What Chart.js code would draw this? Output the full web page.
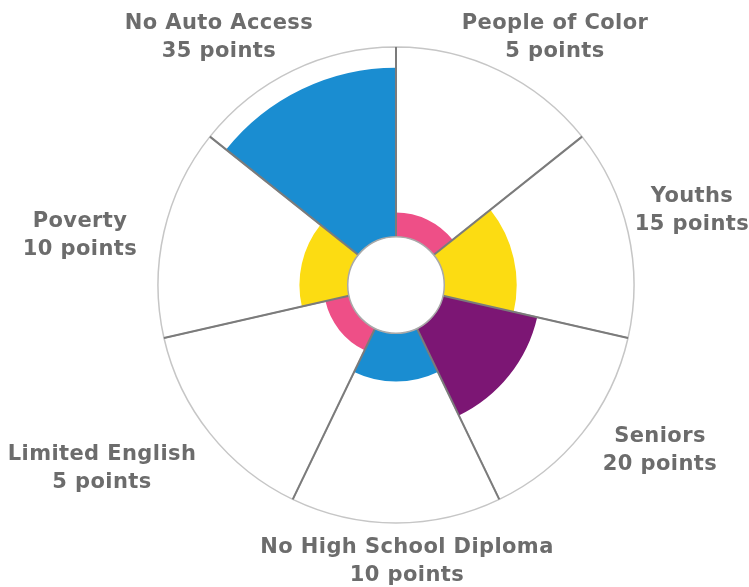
<!DOCTYPE html>
<html lang="en">
<head>
  <meta charset="UTF-8" />
  <script src="https://cdn.jsdelivr.net/npm/chart.js@4/dist/chart.umd.min.js"></script>
  <title>Equity Points</title>
  <style>
    body { margin: 0; background: #fff; }
  </style>
</head>
<body>
<canvas id="points" width="749" height="587"></canvas>
<script>
  // categories, clockwise from the top
  const categories = ["People of Color", "Youths", "Seniors", "No High School Diploma",
    "Limited English", "Poverty", "No Auto Access"];
  const points = [5, 15, 20, 10, 5, 10, 35];
  const colors = ["#ee4f87", "#fcdc12", "#7c1674", "#1a8dd1", "#ee4f87", "#fcdc12", "#1a8dd1"];

  // radial range: the hole sits below zero, the outer ring at the top
  const rMin = -10;
  const rMax = 39.3;

  // label anchors (centre of each two-line label)
  const labelPos = [[555, 24], [692, 197], [660, 437], [407, 548], [102, 455], [80, 222], [219, 24]];

  const holeAndLabels = {
    id: "holeAndLabels",
    afterDraw(chart) {
      const ctx = chart.ctx;
      const r = chart.scales.r;
      ctx.save();
      ctx.beginPath();
      ctx.arc(r.xCenter, r.yCenter, r.getDistanceFromCenterForValue(0), 0, Math.PI * 2);
      ctx.fillStyle = "#fff";
      ctx.fill();
      ctx.lineWidth = 1.5;
      ctx.strokeStyle = "#a9a9a9";
      ctx.stroke();

      ctx.fillStyle = "#6c6c6c";
      ctx.font = "bold 21px 'DejaVu Sans'";
      ctx.letterSpacing = "0.4px";
      ctx.textAlign = "center";
      ctx.textBaseline = "middle";
      categories.forEach((name, i) => {
        const [x, y] = labelPos[i];
        ctx.fillText(name, x, y);
        ctx.fillText(`${points[i]} points`, x, y + 28);
      });
      ctx.restore();
    }
  };

  new Chart(document.getElementById("points"), {
    type: "polarArea",
    data: {
      labels: categories,
      datasets: [{
        data: points,
        backgroundColor: colors,
        borderWidth: 0
      }, {
        // white backdrop reaching the outer ring
        data: categories.map(() => rMax),
        backgroundColor: "#fff",
        borderColor: "#c6c6c6",
        borderWidth: 1.5
      }]
    },
    options: {
      responsive: false,
      animation: false,
      layout: { padding: { left: 158, right: 115, top: 47, bottom: 64 } },
      plugins: { legend: { display: false }, tooltip: { enabled: false } },
      scales: {
        r: {
          min: rMin,
          max: rMax,
          startAngle: 0,
          ticks: { display: false, z: 1 },
          grid: { display: false, z: 1 },
          pointLabels: { display: false },
          angleLines: { display: true, color: "#7b7b7b", lineWidth: 2 }
        }
      }
    },
    plugins: [holeAndLabels]
  });
</script>
</body>
</html>
